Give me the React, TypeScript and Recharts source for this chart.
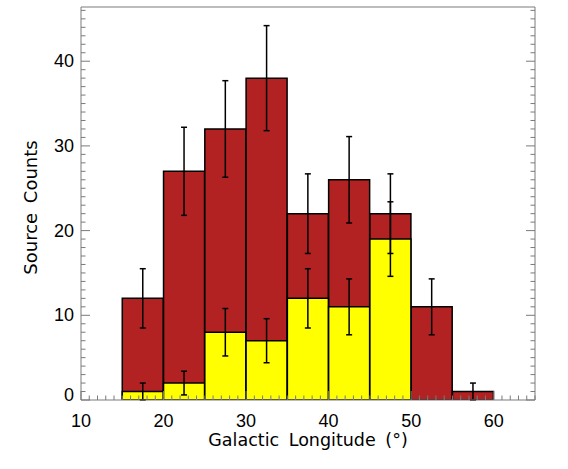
import { ComposedChart, Bar, XAxis, YAxis, ErrorBar, Label } from 'recharts'

const binCenters = [17.5, 22.5, 27.5, 32.5, 37.5, 42.5, 47.5, 52.5, 57.5]
const allCounts = [12, 27, 32, 38, 22, 26, 22, 11, 1]
const allErrors = [3.5, 5.2, 5.7, 6.2, 4.7, 5.1, 4.7, 3.3, 1.0]
const subCounts = [1, 2, 8, 7, 12, 11, 19, 0, 0]
const subErrors = [1.0, 1.4, 2.8, 2.6, 3.5, 3.3, 4.4, 0, 0]

const xTicks = Array.from({ length: 56 }, (_, i) => 10 + i)
const yTicks = Array.from({ length: 47 }, (_, i) => i)

const data = binCenters.map((lon, i) => ({
  lon,
  all: allCounts[i],
  allErr: allErrors[i],
  sub: subCounts[i],
  subErr: subErrors[i],
}))

const FONT = '"Liberation Sans", Arial, sans-serif'
const TITLE_FONT = '"DejaVu Sans", sans-serif'
const AXIS = '#7a7a7a'

const makeTick = (side: 'bottom' | 'top' | 'left' | 'right') => (props: any) => {
  const { x, y, payload } = props
  const v = payload.value
  const major = v % 10 === 0
  const len = major ? 9 : 4.5
  let line
  if (side === 'bottom') line = <line x1={x} y1={y} x2={x} y2={y - len} />
  else if (side === 'top') line = <line x1={x} y1={y} x2={x} y2={y + len} />
  else if (side === 'left') line = <line x1={x} y1={y} x2={x + len} y2={y} />
  else line = <line x1={x} y1={y} x2={x - len} y2={y} />
  return (
    <g stroke={AXIS} strokeWidth={1}>
      {line}
      {major && side === 'bottom' && (
        <text x={x} y={y + 27} textAnchor="middle" fill="#000" stroke="none"
          style={{ fontFamily: FONT, fontSize: 18 }}>{v}</text>
      )}
      {major && side === 'left' && (
        <text x={x - 7} y={v === 0 ? y - 5 : y} textAnchor="end" dominantBaseline="central"
          fill="#000" stroke="none" style={{ fontFamily: FONT, fontSize: 18 }}>{v}</text>
      )}
    </g>
  )
}

export default function App() {
  return (
    <div style={{ position: 'absolute', left: 0, top: 0, width: 568, height: 469, background: '#fff' }}>
      <ComposedChart width={568} height={469} data={data}
        margin={{ top: 6, right: 32, bottom: 68, left: 80 }}
        barCategoryGap={0} barGap={0}>
        <XAxis dataKey="lon" type="number" domain={[10, 65]} allowDataOverflow ticks={xTicks}
          interval={0} height={1} tickSize={0} tickMargin={0} tickLine={false}
          axisLine={{ stroke: AXIS }} tick={makeTick('bottom')}>
          <Label value="Galactic Longitude (°)" position="bottom" offset={33}
            style={{ fontFamily: TITLE_FONT, fontSize: 17.5, fill: '#000', wordSpacing: 4 }} />
        </XAxis>
        <XAxis xAxisId="top" orientation="top" type="number" domain={[10, 65]} allowDataOverflow
          ticks={xTicks} interval={0} height={1} tickSize={0} tickMargin={0} tickLine={false}
          axisLine={{ stroke: AXIS }} tick={makeTick('top')} />
        <XAxis xAxisId="sub" dataKey="lon" type="number" domain={[10, 65]} allowDataOverflow hide />
        <YAxis type="number" domain={[0, 46.4]} allowDataOverflow ticks={yTicks} interval={0}
          width={1} tickSize={0} tickMargin={0} tickLine={false}
          axisLine={{ stroke: AXIS }} tick={makeTick('left')}>
          <Label value="Source Counts" position="center" angle={-90} dx={-50} dy={4}
            style={{ fontFamily: TITLE_FONT, fontSize: 18, fill: '#000', textAnchor: 'middle', wordSpacing: 4 }} />
        </YAxis>
        <YAxis yAxisId="right" orientation="right" type="number" domain={[0, 46.4]} allowDataOverflow
          ticks={yTicks} interval={0} width={1} tickSize={0} tickMargin={0} tickLine={false}
          axisLine={{ stroke: AXIS }} tick={makeTick('right')} />
        <Bar dataKey="all" fill="#b22222" stroke="#000" strokeWidth={1.5} isAnimationActive={false}>
          <ErrorBar dataKey="allErr" width={3} stroke="#000" strokeWidth={1.5} direction="y" />
        </Bar>
        <Bar dataKey="sub" xAxisId="sub" fill="#ffff00" stroke="#000" strokeWidth={1.5} isAnimationActive={false}>
          <ErrorBar dataKey="subErr" width={3} stroke="#000" strokeWidth={1.5} direction="y" />
        </Bar>
      </ComposedChart>
    </div>
  )
}
